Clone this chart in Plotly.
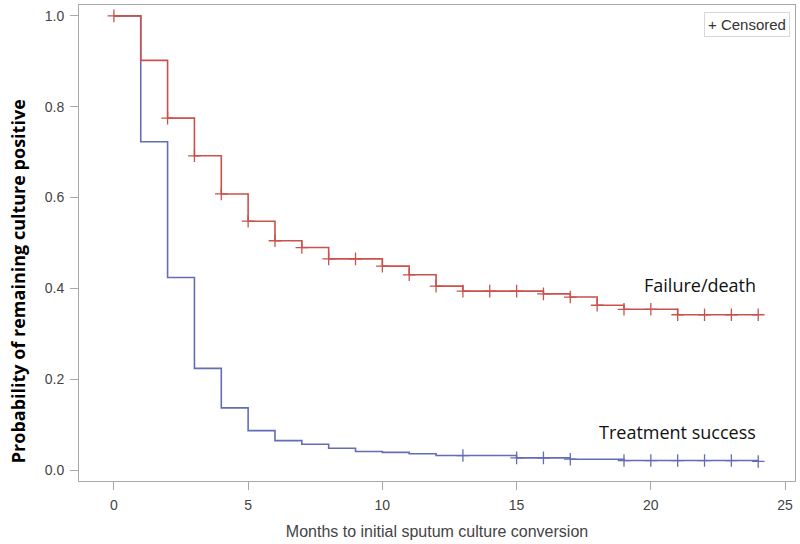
import plotly.graph_objects as go

months = list(range(0, 25))
failure_surv = [1.0, 0.902, 0.775, 0.692, 0.608, 0.548, 0.505, 0.490, 0.465, 0.465,
                0.449, 0.430, 0.405, 0.394, 0.394, 0.394, 0.388, 0.381, 0.363, 0.354,
                0.354, 0.342, 0.342, 0.342, 0.342]
success_surv = [1.0, 0.723, 0.424, 0.224, 0.137, 0.087, 0.065, 0.057, 0.048, 0.041,
                0.039, 0.036, 0.032, 0.032, 0.032, 0.027, 0.027, 0.024, 0.024, 0.021,
                0.021, 0.021, 0.021, 0.021, 0.019]
failure_censor_months = [0, 2, 3, 4, 5, 6, 7, 8, 9, 10, 11, 12, 13, 14, 15, 16, 17, 18,
                         19, 20, 21, 22, 23, 24]
success_censor_months = [13, 15, 16, 17, 19, 20, 21, 22, 23, 24]

RED = "#C9524C"
BLUE = "#636DB5"

fig = go.Figure()
fig.add_trace(go.Scatter(x=months, y=success_surv, mode="lines",
                         line=dict(color=BLUE, width=1.6, shape="hv"),
                         showlegend=False))
fig.add_trace(go.Scatter(x=months, y=failure_surv, mode="lines",
                         line=dict(color=RED, width=1.6, shape="hv"),
                         showlegend=False))
fig.add_trace(go.Scatter(x=success_censor_months,
                         y=[success_surv[m] for m in success_censor_months],
                         mode="markers",
                         marker=dict(symbol="cross-thin", size=9,
                                     line=dict(color=BLUE, width=1.3)),
                         showlegend=False))
fig.add_trace(go.Scatter(x=failure_censor_months,
                         y=[failure_surv[m] for m in failure_censor_months],
                         mode="markers",
                         marker=dict(symbol="cross-thin", size=9,
                                     line=dict(color=RED, width=1.3)),
                         showlegend=False))

fig.add_annotation(x=24.0, y=0.407, xref="x", yref="y", text="Failure/death",
                   showarrow=False, xanchor="right", yanchor="middle",
                   font=dict(family="Open Sans", size=18, color="#111"))
fig.add_annotation(x=24.0, y=0.084, xref="x", yref="y", text="Treatment success",
                   showarrow=False, xanchor="right", yanchor="middle",
                   font=dict(family="Open Sans", size=18, color="#111"))
fig.add_annotation(x=0.9925, y=0.986, xref="paper", yref="paper", text="+ Censored",
                   showarrow=False, xanchor="right", yanchor="top",
                   bordercolor="#D8D8D8", borderwidth=1, borderpad=3,
                   font=dict(family="Arial", size=15, color="#333"))
# y-axis title (placed slightly below the plot centre, as in the original)
fig.add_annotation(x=-0.085, y=0.42, xref="paper", yref="paper",
                   text="Probability of remaining culture positive", textangle=-90,
                   showarrow=False, xanchor="center", yanchor="middle",
                   font=dict(family="Open Sans", size=18, color="#000", weight="bold"))

axis_common = dict(showgrid=False, zeroline=False, showline=True, linecolor="#A8A8A8",
                   linewidth=1, mirror=True, ticks="outside", tickcolor="#A8A8A8",
                   ticklen=8, automargin=False, ticklabelstandoff=3,
                   tickfont=dict(family="Arial", size=14, color="#444"))
fig.update_xaxes(range=[-1.3, 25.37], tickvals=[0, 5, 10, 15, 20, 25],
                 title=dict(text="Months to initial sputum culture conversion",
                            font=dict(family="Arial", size=16, color="#444"), standoff=14),
                 **axis_common)
fig.update_yaxes(range=[-0.024, 1.024], tickvals=[0, 0.2, 0.4, 0.6, 0.8, 1.0],
                 tickformat=".1f", **axis_common)
fig.update_layout(width=800, height=544, margin=dict(l=79, r=5, t=5, b=63),
                  plot_bgcolor="white", paper_bgcolor="white")
fig.write_html("out.html", config={"displayModeBar": False},
               post_script="document.body.style.margin='0';")
